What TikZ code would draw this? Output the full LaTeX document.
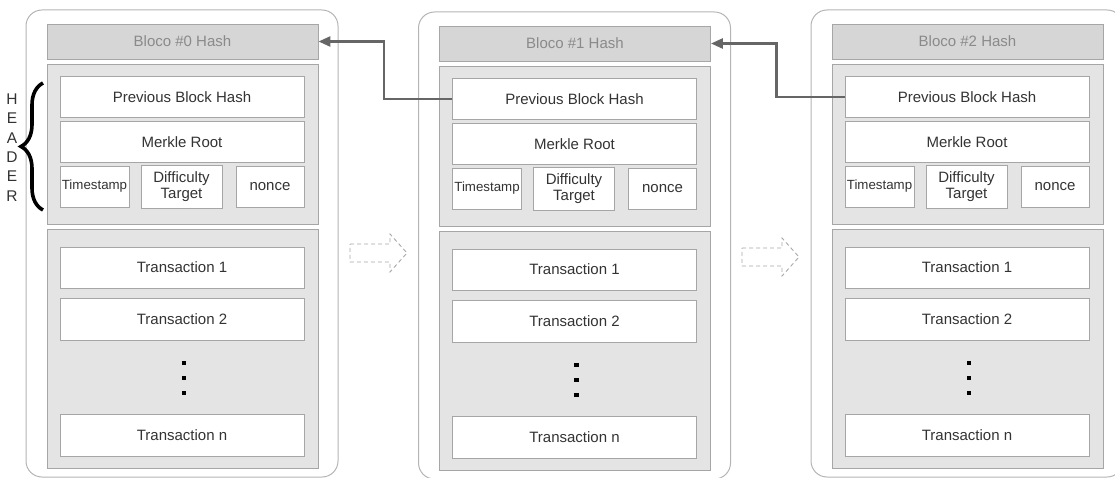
\documentclass[tikz,border=0pt]{standalone}
\usepackage{fontspec}
\setmainfont{Liberation Sans}
\usetikzlibrary{arrows.meta,decorations.pathreplacing}
\definecolor{txt}{HTML}{333333}
\definecolor{hashtxt}{HTML}{8A8A8A}
\definecolor{hashfill}{HTML}{D6D6D6}
\definecolor{panelfill}{HTML}{E4E4E4}
\definecolor{edge}{HTML}{A6A6A6}
\definecolor{outeredge}{HTML}{B4B4B4}
\definecolor{link}{HTML}{666666}
\definecolor{ghost}{HTML}{A8A8A8}
\tikzset{
  outerbox/.style={draw=outeredge, line width=1pt, rounded corners=16pt},
  hashbar/.style={draw=edge, fill=hashfill, line width=0.9pt, inner sep=0pt,
    minimum width=271, minimum height=35, text=hashtxt,
    font=\fontsize{15}{18}\selectfont},
  panel/.style={draw=edge, fill=panelfill, line width=0.9pt, inner sep=0pt, minimum width=271},
  field/.style={draw=edge, fill=white, line width=0.9pt, inner sep=0pt,
    text=txt, font=\fontsize{15}{17}\selectfont, align=center},
  wide/.style={field, minimum width=244, minimum height=41},
  dotmark/.style={fill=black, inner sep=0pt, minimum size=4.5},
  hashlink/.style={draw=link, line width=2.6pt, rounded corners=0pt,
    -{Triangle[length=12pt,width=10pt]}},
  ghostarrow/.style={draw=ghost, line width=0.9pt, dash pattern=on 4pt off 3pt},
}
\begin{document}
\begin{tikzpicture}[x=1pt,y=-1pt]
\useasboundingbox (0,0) rectangle (1115,478);

% three blocks of the chain
\foreach \i/\dx/\dy in {0/0/0, 1/392.5/2, 2/785/0}{
  \begin{scope}[shift={(\dx,\dy)}]
    \draw[outerbox] (26,10) rectangle (338,477);
    \node[hashbar] (h\i) at (182.5,41.5) {Bloco \#\i\ Hash};
    \node[panel, minimum height=160] (hp\i) at (182.5,144) {};
    \node[wide] (p\i) at (182,97) {Previous Block Hash};
    \node[wide] (m\i) at (182,142) {Merkle Root};
    \node[field, minimum width=69, minimum height=41,
      font=\fontsize{13.3}{16}\selectfont] (t\i) at (94.5,186.5) {Timestamp};
    \node[field, minimum width=81, minimum height=43] (d\i) at (181.5,186.5) {Difficulty\\[-1pt]Target};
    \node[field, minimum width=68, minimum height=41] (n\i) at (270,186.5) {nonce};
    \node[panel, minimum height=239] (tp\i) at (182.5,348.5) {};
    \node[wide] (tx1\i) at (182,267.5) {Transaction 1};
    \node[wide, minimum height=42] (tx2\i) at (182,319) {Transaction 2};
    \node[dotmark] (da\i) at (184,363) {};
    \node[dotmark] (db\i) at (184,378) {};
    \node[dotmark] (dc\i) at (184,393) {};
    \node[wide, minimum height=42] (txn\i) at (182,435) {Transaction n};
  \end{scope}
}

% each block points back to the hash of its predecessor
\draw[hashlink] (p1.west) -- ++(-68,0) |- (h0.east);
\draw[hashlink] (p2.west) -- ++(-68,0) |- (h1.east);

% dashed outline arrows between blocks
\draw[ghostarrow] (350,244) -- (390,244) -- (390,234) -- (407,253)
  -- (390,272) -- (390,262) -- (350,262) -- cycle;
\draw[ghostarrow] (742,248) -- (782,248) -- (782,238) -- (799,257)
  -- (782,276) -- (782,266) -- (742,266) -- cycle;

% header label and brace
\node[text=txt, font=\fontsize{15.5}{19.4}\selectfont, align=center, inner sep=0pt]
  (hdr) at (12,147.5) {H\\E\\A\\D\\E\\R};
\coordinate (bb) at (43,210);
\coordinate (bt) at (43,83);
\draw[line width=3.6pt, decorate, decoration={brace, amplitude=22pt}] (bb) -- (bt);
\end{tikzpicture}
\end{document}
